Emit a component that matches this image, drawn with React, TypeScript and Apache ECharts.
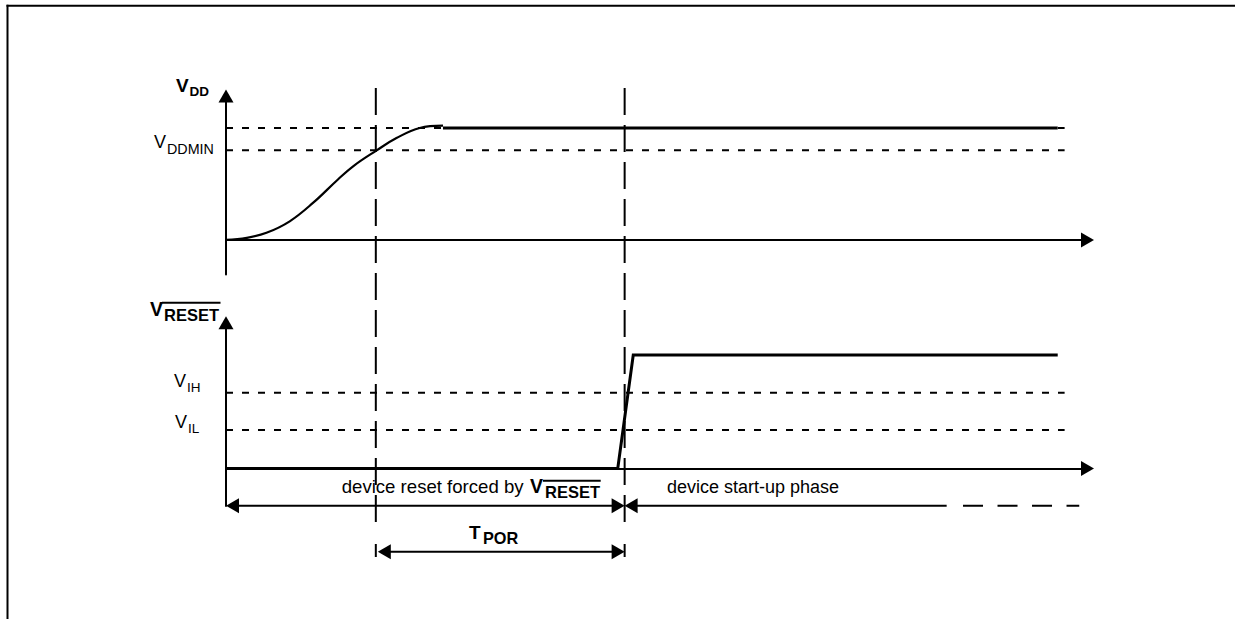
import React, { useEffect, useRef } from "react";
import * as echarts from "echarts";

// ---- data (time in arbitrary units, voltages normalised to VDD = 1) ----
const X_MAX = 100;
const VDD_Y_MIN = -0.31;
const RESET_Y_MIN = -0.33;
const Y_MAX = 1.28;
const VDD_RAMP_T = [0, 2.4, 4.7, 7.4, 10.1, 13.0, 14.8, 17.5, 19.8, 22.5, 25.2];
const VDD_RAMP_V = [0, 0.018, 0.063, 0.166, 0.33, 0.54, 0.66, 0.8, 0.91, 1.0, 1.02];
const VDD_FLAT_T = [25.2, 96.6];
const VDD_FLAT_V = [1.0, 1.0];
const RESET_T = [0, 45.5, 47.3, 96.6];
const RESET_V = [0, 0, 1.0, 1.0];
const VDD_NOM = 1.0;
const VDDMIN = 0.8;
const VIH = 0.668;
const VIL = 0.339;
const REF_END_T = 97.4;
const T_POR_START = 17.4;
const T_RESET_RELEASE = 46.3;
const STARTUP_SOLID_END = 83.7;
const STARTUP_DASH_START = 85.6;
const STARTUP_DASH_END = 99.1;

const FONT = "'Liberation Sans', Arial, Helvetica, sans-serif";

export default function App() {
  const ref = useRef<HTMLDivElement>(null);
  useEffect(() => {
    const el = ref.current!;
    const chart = echarts.init(el, undefined, { renderer: "svg" });
    const axisLine = {
      show: true,
      onZero: true,
      lineStyle: { color: "#000", width: 2 },
    };
    const hidden = {
      axisTick: { show: false },
      axisLabel: { show: false },
      splitLine: { show: false },
    };
    const pair = (xs: number[], ys: number[]) => xs.map((x, i) => [x, ys[i]]);
    const refLine = (g: number, v: number) => ({
      type: "line",
      xAxisIndex: g,
      yAxisIndex: g,
      data: [[0, v], [REF_END_T, v]],
      symbol: "none",
      lineStyle: { color: "#000", width: 2, type: [7, 9] },
      z: 1,
    });
    chart.setOption({
      animation: false,
      backgroundColor: "#fff",
      grid: [
        { left: 226, top: 96.6, width: 861, height: 178 },
        { left: 226, top: 323.2, width: 861, height: 182.7 },
      ],
      xAxis: [0, 1].map((g) => ({
        type: "value",
        gridIndex: g,
        min: 0,
        max: X_MAX,
        axisLine,
        ...hidden,
      })),
      yAxis: [
        { type: "value", gridIndex: 0, min: VDD_Y_MIN, max: Y_MAX, axisLine, ...hidden },
        { type: "value", gridIndex: 1, min: RESET_Y_MIN, max: Y_MAX, axisLine, ...hidden },
      ],
      series: [
        refLine(0, VDD_NOM),
        refLine(0, VDDMIN),
        refLine(1, VIH),
        refLine(1, VIL),
        {
          type: "line",
          xAxisIndex: 0,
          yAxisIndex: 0,
          data: pair(VDD_RAMP_T, VDD_RAMP_V),
          smooth: 0.4,
          symbol: "none",
          lineStyle: { color: "#000", width: 2.2 },
          z: 3,
        },
        {
          type: "line",
          xAxisIndex: 0,
          yAxisIndex: 0,
          data: pair(VDD_FLAT_T, VDD_FLAT_V),
          symbol: "none",
          lineStyle: { color: "#000", width: 3 },
          z: 3,
        },
        {
          type: "line",
          xAxisIndex: 1,
          yAxisIndex: 1,
          data: pair(RESET_T, RESET_V),
          symbol: "none",
          lineStyle: { color: "#000", width: 3, join: "miter" },
          z: 3,
        },
      ],
    });

    const px = (g: number, t: number, v: number) =>
      chart.convertToPixel({ gridIndex: g }, [t, v]) as number[];
    const xa = (t: number) => px(1, t, 0)[0];
    const x0 = xa(0);
    const xP = xa(T_POR_START);
    const xR = xa(T_RESET_RELEASE);
    const yMin = px(0, 0, VDDMIN)[1];
    const yIH = px(1, 0, VIH)[1];
    const yIL = px(1, 0, VIL)[1];
    const row1 = 505.7;
    const row2 = 551.7;
    const stroke = { stroke: "#000", lineWidth: 2 };
    const line = (x1: number, y1: number, x2: number, y2: number, extra: any = {}) => ({
      type: "line",
      shape: { x1, y1, x2, y2 },
      style: { ...stroke, ...extra },
    });
    const poly = (points: number[][]) => ({
      type: "polygon",
      shape: { points },
      style: { fill: "#000" },
    });
    const headL = (x: number, y: number) => poly([[x, y], [x + 13, y - 7.5], [x + 13, y + 7.5]]);
    const headR = (x: number, y: number) => poly([[x, y], [x - 13, y - 7.5], [x - 13, y + 7.5]]);
    const headU = (x: number, y: number) => poly([[x, y], [x - 7.5, y + 13], [x + 7.5, y + 13]]);
    const txt = (x: number, y: number, text: string, fontSize: number, bold = false) => ({
      type: "text",
      x,
      y,
      style: {
        text,
        fontSize,
        fontFamily: FONT,
        fontWeight: bold ? "bold" : "normal",
        fill: "#000",
        align: "left",
        verticalAlign: "middle",
      },
    });

    // axis arrowheads at the axis ends
    const topXEnd = px(0, X_MAX, 0);
    const botXEnd = px(1, X_MAX, 0);
    const topYEnd = px(0, 0, Y_MAX);
    const botYEnd = px(1, 0, Y_MAX);

    const elements: any[] = [
      line(7.5, 619, 7.5, 4.8),
      line(6.5, 5.8, 1240, 5.8),
      headR(topXEnd[0] + 7, topXEnd[1]),
      headR(botXEnd[0] + 7, botXEnd[1]),
      headU(topYEnd[0], topYEnd[1] - 7),
      headU(botYEnd[0], botYEnd[1] - 7),
      line(xP, 88, xP, 527, { lineDash: [27, 10] }),
      line(xR, 88, xR, 527, { lineDash: [27, 10] }),
      line(xP, 544, xP, 557),
      line(xR, 544, xR, 557),
      // row 1 arrows
      line(x0 + 6, row1, xR - 6, row1),
      headL(x0, row1),
      headR(xR, row1),
      line(xR + 6, row1, xa(STARTUP_SOLID_END), row1),
      headL(xR, row1),
      line(xa(STARTUP_DASH_START), row1, xa(STARTUP_DASH_END), row1, { lineDash: [20, 14.5] }),
      // row 2 arrow (TPOR)
      line(xP + 8, row2, xR - 6, row2),
      headL(xP + 2, row2),
      headR(xR, row2),
      // labels
      txt(176, 85.5, "V", 19, true),
      txt(189.5, 91.5, "DD", 13.5, true),
      txt(154, yMin - 8, "V", 18),
      txt(167, yMin - 1, "DDMIN", 14.3),
      txt(150, 308.5, "V", 19.5, true),
      txt(164, 315, "RESET", 16.5, true),
      line(162, 302.7, 220.5, 302.7),
      txt(174, yIH - 11.5, "V", 18),
      txt(187, yIH - 5, "IH", 13.5),
      txt(175, yIL - 7.5, "V", 18),
      txt(188, yIL - 1, "IL", 13.5),
      txt(341.7, 486.5, "device reset forced by", 18.6),
      txt(530, 485.5, "V", 19.5, true),
      txt(545, 492, "RESET", 16.5, true),
      line(543, 480.7, 600.7, 480.7),
      txt(667, 486.5, "device start-up phase", 18),
      txt(469, 532, "T", 19, true),
      txt(483, 538, "POR", 16.3, true),
    ];
    chart.setOption({ graphic: { elements } });
    return () => chart.dispose();
  }, []);
  return (
    <div
      ref={ref}
      style={{ position: "fixed", left: 0, top: 0, width: 1235, height: 619, background: "#fff" }}
    />
  );
}
